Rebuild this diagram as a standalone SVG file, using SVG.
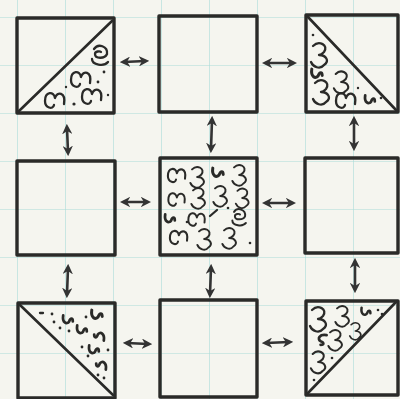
<svg xmlns="http://www.w3.org/2000/svg" xmlns:xlink="http://www.w3.org/1999/xlink" width="400" height="399" viewBox="0 0 400 399">
<style>
.sq{fill:none;stroke:#2a2a28;stroke-width:3.4;stroke-linejoin:round}
.dg{stroke:#2a2a28;stroke-width:2.6;stroke-linecap:round}
.ar{fill:none;stroke:#333;stroke-width:2.6;stroke-linecap:round;marker-start:url(#ah);marker-end:url(#ah)}
.sw{fill:none;stroke:#2a2a28;stroke-width:2.3;stroke-linecap:round;stroke-linejoin:round}
.dt{fill:#2a2a28}
</style>
<defs>
<pattern id="grid" x="17" y="17" width="48" height="48" patternUnits="userSpaceOnUse">
<path d="M0,0 H48 M0,0 V48" stroke="#a9dcd8" stroke-width="1.2" fill="none"/>
</pattern>
<marker id="ah" viewBox="0 0 10 10" refX="6" refY="5" markerWidth="4" markerHeight="4" orient="auto-start-reverse" markerUnits="strokeWidth">
<path d="M0,0 L10,5 L0,10 L3,5 z" fill="#333"/>
</marker>
<path id="s1" class="sw" d="M-7,-9 C-1,-15 9,-10 4,-3 C1,0 -1,0 -1,0 C6,0 10,6 4,10 C0,15 -7,12 -9,7"/>
<path id="s2" class="sw" d="M-10,-3 C-12,9 -3,10 -1,3 C0,10 9,10 9,0 C9,-7 1,-9 0,-4"/>
<path id="s3" class="sw" d="M-7,-6 C-3,-12 7,-9 6,-1 C4,4 -6,4 -6,-1 C-6,-4 -1,-4 0,-3 M-9,4 C-9,10 3,12 7,7"/>
<path id="s4" class="sw" d="M-4,-3 C-5,3 -1,5 1,2 C2,-1 4,-1 4,2"/>
</defs>
<rect width="400" height="399" fill="#f5f5ef"/>
<rect width="400" height="399" fill="url(#grid)"/>

<g id="connectors">
<line class="ar" x1="124" y1="62" x2="145" y2="61"/>
<line class="ar" x1="266" y1="63" x2="293" y2="63"/>
<line class="ar" x1="124" y1="202" x2="147" y2="202"/>
<line class="ar" x1="266" y1="203" x2="292" y2="203"/>
<line class="ar" x1="127" y1="343" x2="148" y2="344"/>
<line class="ar" x1="266" y1="343" x2="289" y2="342"/>
<line class="ar" x1="67" y1="128" x2="68" y2="152"/>
<line class="ar" x1="212" y1="120" x2="211" y2="149"/>
<line class="ar" x1="354" y1="120" x2="354" y2="147"/>
<line class="ar" x1="68" y1="268" x2="67" y2="294"/>
<line class="ar" x1="211" y1="268" x2="210" y2="294"/>
<line class="ar" x1="355" y1="262" x2="355" y2="289"/>
</g>

<g id="n11">
<rect class="sq" x="17" y="18" width="97" height="95"/>
<line class="dg" x1="19" y1="111" x2="112" y2="21"/>
<use xlink:href="#s3" transform="translate(101,55)"/>
<use xlink:href="#s2" transform="translate(80,80) rotate(180)"/>
<use xlink:href="#s2" transform="translate(54,101) rotate(180)"/>
<use xlink:href="#s2" transform="translate(91,97) rotate(180)"/>
<circle class="dt" cx="104" cy="72" r="1.4"/>
<circle class="dt" cx="98" cy="82" r="1.4"/>
<circle class="dt" cx="74" cy="104" r="1.6"/>
<circle class="dt" cx="108" cy="95" r="1.2"/>
<circle class="dt" cx="66" cy="87" r="1.2"/>
</g>

<g id="n12">
<rect class="sq" x="159" y="16" width="98" height="96"/>
</g>

<g id="n13">
<rect class="sq" x="306" y="15" width="92" height="97"/>
<line class="dg" x1="308" y1="17" x2="396" y2="110"/>
<use xlink:href="#s1" transform="translate(320,55)"/>
<use xlink:href="#s4" transform="translate(317,73) scale(1.3)"/>
<use xlink:href="#s1" transform="translate(322,92)"/>
<use xlink:href="#s1" transform="translate(342,82) scale(0.9)"/>
<use xlink:href="#s2" transform="translate(345,101) rotate(180)"/>
<use xlink:href="#s4" transform="translate(370,99) scale(1.2)"/>
<circle class="dt" cx="313" cy="35" r="1.3"/>
<circle class="dt" cx="381" cy="98" r="1.3"/>
<circle class="dt" cx="358" cy="88" r="1.2"/>
</g>

<g id="n21">
<rect class="sq" x="17" y="161" width="98" height="94"/>
</g>

<g id="n22">
<rect class="sq" x="160" y="158" width="97" height="97"/>
<use xlink:href="#s2" transform="translate(176,176) rotate(180) scale(0.9)"/>
<use xlink:href="#s1" transform="translate(198,177) scale(0.85)"/>
<use xlink:href="#s4" transform="translate(218,172) scale(1.3)"/>
<use xlink:href="#s1" transform="translate(240,175) scale(0.85)"/>
<use xlink:href="#s2" transform="translate(176,200) rotate(180) scale(0.85)"/>
<use xlink:href="#s1" transform="translate(199,198) scale(0.85)"/>
<use xlink:href="#s1" transform="translate(221,196) scale(0.85)"/>
<use xlink:href="#s1" transform="translate(243,198) scale(0.8)"/>
<use xlink:href="#s2" transform="translate(196,220) rotate(180) scale(0.85)"/>
<use xlink:href="#s3" transform="translate(240,217) scale(0.85)"/>
<use xlink:href="#s2" transform="translate(178,238) rotate(180) scale(0.9)"/>
<use xlink:href="#s1" transform="translate(205,239) scale(0.85)"/>
<use xlink:href="#s1" transform="translate(230,238) scale(0.85)"/>
<use xlink:href="#s4" transform="translate(170,218) scale(1.2)"/>
<circle class="dt" cx="228" cy="208" r="1.3"/>
<circle class="dt" cx="250" cy="243" r="1.3"/>
<circle class="dt" cx="187" cy="222" r="1.3"/>
<path class="sw" d="M210,216 L217,210"/>
</g>

<g id="n23">
<rect class="sq" x="305" y="158" width="93" height="95"/>
</g>

<g id="n31">
<rect class="sq" x="18" y="303" width="97" height="95"/>
<line class="dg" x1="20" y1="305" x2="113" y2="395"/>
<path class="sw" d="M40,313 H43"/>
<use xlink:href="#s4" transform="translate(68,319) scale(1.2)"/>
<use xlink:href="#s4" transform="translate(97,314) scale(1.3)"/>
<use xlink:href="#s4" transform="translate(82,329) scale(1.2)"/>
<use xlink:href="#s4" transform="translate(99,337) rotate(180) scale(1.2)"/>
<use xlink:href="#s4" transform="translate(94,349) scale(1.2)"/>
<use xlink:href="#s4" transform="translate(101,366) rotate(180) scale(1.2)"/>
<circle class="dt" cx="52" cy="314" r="1.4"/>
<circle class="dt" cx="54" cy="322" r="1.4"/>
<circle class="dt" cx="60" cy="328" r="1.4"/>
<circle class="dt" cx="69" cy="331" r="1.4"/>
<circle class="dt" cx="86" cy="317" r="1.4"/>
<circle class="dt" cx="82" cy="347" r="1.4"/>
<circle class="dt" cx="88" cy="356" r="1.4"/>
<circle class="dt" cx="104" cy="378" r="1.4"/>
<circle class="dt" cx="98" cy="375" r="1.4"/>
<circle class="dt" cx="108" cy="350" r="1.4"/>
</g>

<g id="n32">
<rect class="sq" x="160" y="300" width="97" height="97"/>
</g>

<g id="n33">
<rect class="sq" x="306" y="301" width="92" height="94"/>
<line class="dg" x1="308" y1="393" x2="396" y2="302"/>
<use xlink:href="#s1" transform="translate(319,319)"/>
<use xlink:href="#s1" transform="translate(343,316) scale(0.85)"/>
<use xlink:href="#s4" transform="translate(366,311) scale(1.1)"/>
<use xlink:href="#s1" transform="translate(336,340) scale(0.85)"/>
<use xlink:href="#s1" transform="translate(356,331) scale(0.7)"/>
<use xlink:href="#s1" transform="translate(319,362) scale(0.9)"/>
<use xlink:href="#s4" transform="translate(323,340) rotate(90) scale(1.2)"/>
<circle class="dt" cx="378" cy="310" r="1.3"/>
<circle class="dt" cx="382" cy="314" r="1.3"/>
<circle class="dt" cx="332" cy="358" r="1.3"/>
<circle class="dt" cx="314" cy="380" r="1.3"/>
</g>
</svg>
